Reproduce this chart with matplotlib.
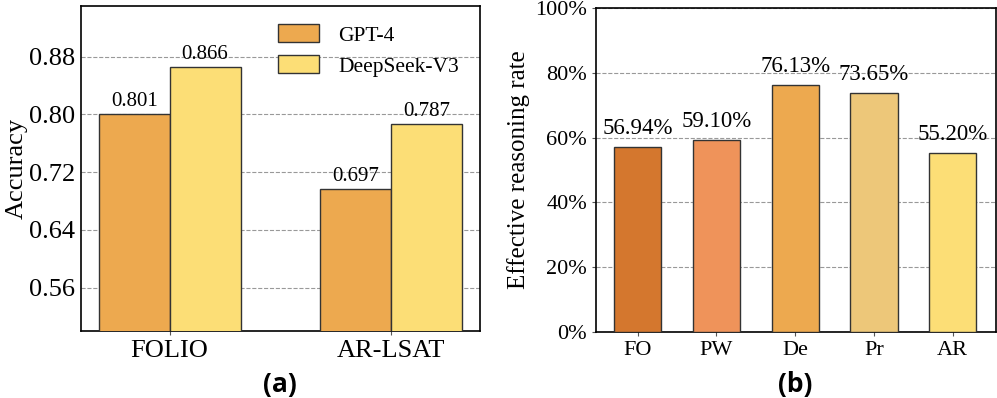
import matplotlib
matplotlib.use("Agg")
import matplotlib.pyplot as plt
import numpy as np
from matplotlib.ticker import FuncFormatter

plt.rcParams['font.family'] = ['Liberation Serif', 'DejaVu Serif']

# Panel (a)
datasets = ["FOLIO", "AR-LSAT"]
models = ["GPT-4", "DeepSeek-V3"]
gpt4_acc = [0.801, 0.697]
deepseek_acc = [0.866, 0.787]
acc_ticks = [0.56, 0.64, 0.72, 0.80, 0.88]

# Panel (b)
categories = ["FO", "PW", "De", "Pr", "AR"]
rates = [56.94, 59.10, 76.13, 73.65, 55.20]
rate_ticks = [0, 20, 40, 60, 80, 100]

model_colors = ["#EDA94F", "#FCDE76"]
cat_colors = ["#D4772E", "#EF935A", "#EDA94F", "#EDC779", "#FCDE76"]
edge = "#333333"

fig = plt.figure(figsize=(9.97, 3.98), dpi=100)
ax1 = fig.add_axes([0.0812, 0.168, 0.4002, 0.817])
ax2 = fig.add_axes([0.5978, 0.166, 0.4012, 0.814])

x = np.arange(len(datasets))
w = 0.32
b1 = ax1.bar(x - w/2, gpt4_acc, w, color=model_colors[0], edgecolor=edge, linewidth=1.0, label=models[0], zorder=3)
b2 = ax1.bar(x + w/2, deepseek_acc, w, color=model_colors[1], edgecolor=edge, linewidth=1.0, label=models[1], zorder=3)
for bars in (b1, b2):
    for r in bars:
        ax1.text(r.get_x() + r.get_width()/2, r.get_height() + 0.004, f"{r.get_height():.3f}",
                 ha="center", va="bottom", fontsize=15, zorder=4)
ax1.set_ylim(0.50, 0.95)
ax1.set_xlim(-0.4, 1.4)
ax1.set_yticks(acc_ticks)
ax1.yaxis.set_major_formatter(FuncFormatter(lambda v, p: f"{v:.2f}"))
ax1.set_xticks(x)
ax1.set_xticklabels(datasets)
ax1.tick_params(axis="both", labelsize=19, length=3, color="#555555")
ax1.tick_params(axis="y", length=0, pad=4)
ax1.set_ylabel("Accuracy", fontsize=19, labelpad=1)
ax1.grid(axis="y", linestyle="--", color="#999999", linewidth=0.8, zorder=0)
ax1.legend(loc="upper right", frameon=False, fontsize=15.5, handlelength=1.9, handleheight=0.9,
           handletextpad=0.9, bbox_to_anchor=(0.985, 0.99), labelspacing=0.45, borderaxespad=0.3)
for s in ax1.spines.values():
    s.set_linewidth(1.2)

xb = np.arange(len(categories))
bars = ax2.bar(xb, rates, 0.6, color=cat_colors, edgecolor=edge, linewidth=1.0, zorder=3)
for r, v in zip(bars, rates):
    ax2.text(r.get_x() + r.get_width()/2, v + 2.6, f"{v:.2f}%", ha="center", va="bottom",
             fontsize=16.5, zorder=4)
ax2.set_ylim(0, 100)
ax2.set_xlim(-0.53, 4.55)
ax2.set_yticks(rate_ticks)
ax2.yaxis.set_major_formatter(FuncFormatter(lambda v, p: f"{v:.0f}%"))
ax2.set_xticks(xb)
ax2.set_xticklabels(categories)
ax2.tick_params(axis="both", labelsize=16, length=3, color="#555555")
ax2.set_ylabel("Effective reasoning rate", fontsize=18, labelpad=4)
ax2.grid(axis="y", linestyle="--", color="#999999", linewidth=0.8, zorder=0)
for s in ax2.spines.values():
    s.set_linewidth(1.2)

fig.text(0.281, 0.033, "(a)", ha="center", va="center", fontsize=19, fontweight="bold",
         family=["Open Sans", "DejaVu Sans"])
fig.text(0.798, 0.035, "(b)", ha="center", va="center", fontsize=19, fontweight="bold",
         family=["Open Sans", "DejaVu Sans"])

fig.savefig("out.png", dpi=100)
